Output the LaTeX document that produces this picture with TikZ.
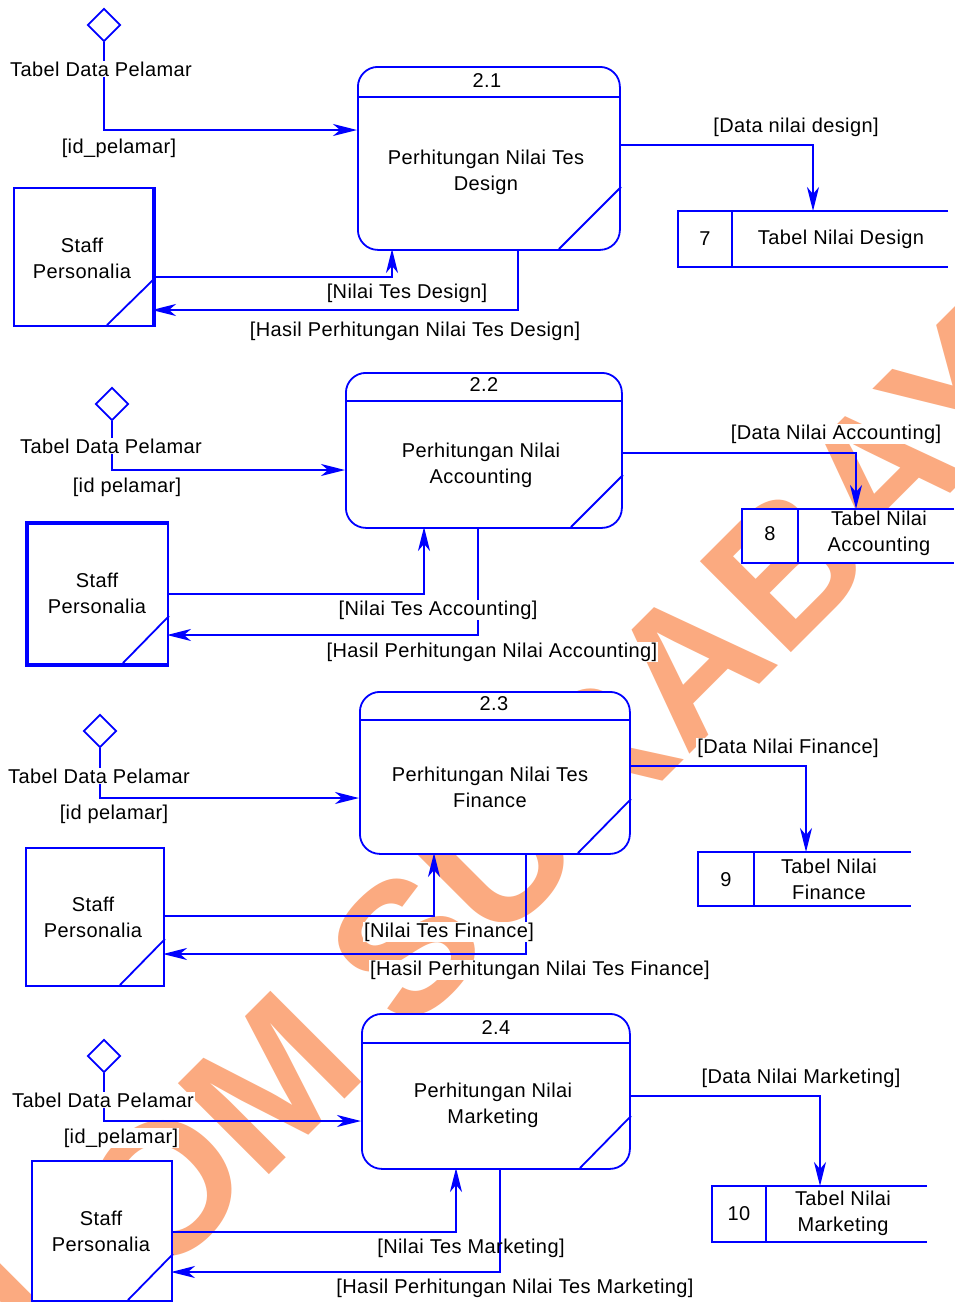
\documentclass[tikz,border=0pt]{standalone}
\usepackage{fontspec}
\setmainfont{Liberation Sans}[LetterSpace=2]
\newfontfamily\stampfont{Liberation Sans}
\usetikzlibrary{arrows.meta,shapes.geometric}
\definecolor{flowblue}{RGB}{0,0,255}
\definecolor{wmorange}{RGB}{251,170,128}

\tikzset{
  every node/.style={font=\fontsize{20}{26}\selectfont, text=black},
  ln/.style={draw=flowblue, line width=1.8pt},
  thickedge/.style={draw=flowblue, line width=3.6pt},
  flow/.style={ln, -{Stealth[length=24pt,width=12pt,inset=7pt]}},
  proc/.style={ln, fill=white, rounded corners=20pt, inner sep=0, anchor=north west},
  ent/.style={ln, fill=white, inner sep=0, anchor=north west},
  src/.style={ln, diamond, fill=white, inner sep=0, minimum width=33, minimum height=33},
  lbl/.style={fill=white, inner sep=1pt},
  lblclear/.style={inner sep=1pt},
  txt/.style={align=center},
  wm/.style={font=\stampfont\bfseries\fontsize{187}{187}\selectfont, text=wmorange,
             rotate=45, anchor=base west, inner sep=0}
}

\begin{document}
\begin{tikzpicture}[x=1pt,y=-1pt]
\useasboundingbox (0,0) rectangle (954,1302);
\fill[white] (0,0) rectangle (954,1302);

% background stamp
\begin{scope}
  \clip (0,0) rectangle (954,1302);
  \node[wm] (wmark) at (-143.3,1587.3) {STIKOM SURABAYA};
\end{scope}

%% ---------------- 2.1 ----------------
\node[proc, minimum width=262, minimum height=183] (p1) at (357,66) {};
\draw[ln] (357,97) -- (619,97);
\draw[ln] (559,249) -- (621,187);
\node (p1num) at (487,81) {2.1};
\node[txt] (p1txt) at (486,172) {Perhitungan Nilai Tes\\Design};

\node[src] (d1) at (104,25) {};

\node[ent, minimum width=139, minimum height=138] (e1) at (13,187) {};
\draw[thickedge] (e1.north east) -- (e1.south east);
\draw[ln] (107,325) -- (153,280);
\node[txt] (e1txt) at (82,258) {Staff\\Personalia};

\fill[white] (678,211) rectangle (948,267);
\draw[ln] (948,211) -- (678,211) -- (678,267) -- (948,267);
\draw[ln] (732,211) -- (732,267);
\node (s7num) at (705,239) {7};
\node (s7txt) at (841,239) {Tabel Nilai Design};

\coordinate (p1in) at (357,130);
\coordinate (p1out) at (619,145);
\coordinate (s7in) at (813,211);
\coordinate (e1out) at (152,277);
\coordinate (p1bin) at (392,249);
\coordinate (p1bout) at (518,249);
\coordinate (e1in) at (152,310);

\draw[flow] (d1.south) |- (p1in);
\draw[flow] (p1out) -| (s7in);
\draw[flow] (e1out) -| (p1bin);
\draw[flow] (p1bout) |- (e1in);

\node[lbl] (l1a) at (101,69) {Tabel Data Pelamar};
\node[lbl] (l1b) at (119,148) {[id\_pelamar]};
\node[lbl] (l1c) at (796,127) {[Data nilai design]};
\node[lbl] (l1d) at (407,293) {[Nilai Tes Design]};
\node[lbl] (l1e) at (415,331) {[Hasil Perhitungan Nilai Tes Design]};

%% ---------------- 2.2 ----------------
\node[proc, minimum width=276, minimum height=155] (p2) at (345,372) {};
\draw[ln] (345,401) -- (621,401);
\draw[ln] (571,527) -- (623,475);
\node (p2num) at (484,385) {2.2};
\node[txt] (p2txt) at (481,465) {Perhitungan Nilai\\Accounting};

\node[src] (d2) at (112,404) {};

\node[ent, minimum width=140, minimum height=140] (e2) at (27,523) {};
\draw[thickedge] (e2.north east) -- (e2.north west) -- (e2.south west) -- (e2.south east);
\draw[ln] (123,663) -- (169,616);
\node[txt] (e2txt) at (97,593) {Staff\\Personalia};

\fill[white] (742,509) rectangle (954,563);
\draw[ln] (954,509) -- (742,509) -- (742,563) -- (954,563);
\draw[ln] (798,509) -- (798,563);
\node (s8num) at (770,534) {8};
\node[txt] (s8txt) at (879,533) {Tabel Nilai\\Accounting};

\coordinate (p2in) at (345,470);
\coordinate (p2out) at (621,453);
\coordinate (s8in) at (856,509);
\coordinate (e2out) at (167,594);
\coordinate (p2bin) at (424,527);
\coordinate (p2bout) at (478,527);
\coordinate (e2in) at (167,635);

\draw[flow] (d2.south) |- (p2in);
\draw[flow] (p2out) -| (s8in);
\draw[flow] (e2out) -| (p2bin);
\draw[flow] (p2bout) |- (e2in);

\node[lbl] (l2a) at (111,446) {Tabel Data Pelamar};
\node[lbl] (l2b) at (127,487) {[id pelamar]};
\node[lbl] (l2c) at (836,434) {[Data Nilai Accounting]};
\node[lbl] (l2d) at (438,610) {[Nilai Tes Accounting]};
\node[lbl] (l2e) at (492,652) {[Hasil Perhitungan Nilai Accounting]};

%% ---------------- 2.3 ----------------
\node[proc, minimum width=270, minimum height=162] (p3) at (359,691) {};
\draw[ln] (359,720) -- (629,720);
\draw[ln] (578,853) -- (631,799);
\node (p3num) at (494,704) {2.3};
\node[txt] (p3txt) at (490,787) {Perhitungan Nilai Tes\\Finance};

\node[src] (d3) at (100,731) {};

\node[ent, minimum width=138, minimum height=138] (e3) at (25,847) {};
\draw[ln] (120,985) -- (165,939);
\node[txt] (e3txt) at (93,917) {Staff\\Personalia};

\fill[white] (698,852) rectangle (911,906);
\draw[ln] (911,852) -- (698,852) -- (698,906) -- (911,906);
\draw[ln] (754,852) -- (754,906);
\node (s9num) at (726,880) {9};
\node[txt] (s9txt) at (829,879) {Tabel Nilai\\Finance};

\coordinate (p3in) at (359,798);
\coordinate (p3out) at (629,766);
\coordinate (s9in) at (806,852);
\coordinate (e3out) at (163,916);
\coordinate (p3bin) at (434,853);
\coordinate (p3bout) at (526,853);
\coordinate (e3in) at (163,954);

\draw[flow] (d3.south) |- (p3in);
\draw[flow] (p3out) -| (s9in);
\draw[flow] (e3out) -| (p3bin);
\draw[flow] (p3bout) |- (e3in);

\node[lbl] (l3a) at (99,776) {Tabel Data Pelamar};
\node[lbl] (l3b) at (114,814) {[id pelamar]};
\node[lbl] (l3c) at (788,748) {[Data Nilai Finance]};
\node[lbl] (l3d) at (449,932) {[Nilai Tes Finance]};
\node[lbl] (l3e) at (540,970) {[Hasil Perhitungan Nilai Tes Finance]};

%% ---------------- 2.4 ----------------
\node[proc, minimum width=268, minimum height=155] (p4) at (361,1013) {};
\draw[ln] (361,1043) -- (629,1043);
\draw[ln] (580,1168) -- (631,1116);
\node (p4num) at (496,1028) {2.4};
\node[txt] (p4txt) at (493,1105) {Perhitungan Nilai\\Marketing};

\node[src] (d4) at (104,1056) {};

\node[ent, minimum width=140, minimum height=140] (e4) at (31,1160) {};
\draw[ln] (128,1300) -- (173,1254);
\node[txt] (e4txt) at (101,1231) {Staff\\Personalia};

\fill[white] (712,1186) rectangle (927,1242);
\draw[ln] (927,1186) -- (712,1186) -- (712,1242) -- (927,1242);
\draw[ln] (766,1186) -- (766,1242);
\node (s10num) at (739,1214) {10};
\node[txt] (s10txt) at (843,1213) {Tabel Nilai\\Marketing};

\coordinate (p4in) at (361,1121);
\coordinate (p4out) at (629,1096);
\coordinate (s10in) at (820,1186);
\coordinate (e4out) at (171,1232);
\coordinate (p4bin) at (456,1168);
\coordinate (p4bout) at (500,1168);
\coordinate (e4in) at (171,1272);

\draw[flow] (d4.south) |- (p4in);
\draw[flow] (p4out) -| (s10in);
\draw[flow] (e4out) -| (p4bin);
\draw[flow] (p4bout) |- (e4in);

\node[lbl] (l4a) at (103,1100) {Tabel Data Pelamar};
\node[lbl] (l4b) at (121,1138) {[id\_pelamar]};
\node[lbl] (l4c) at (801,1078) {[Data Nilai Marketing]};
\node[lblclear] (l4d) at (471,1248) {[Nilai Tes Marketing]};
\node[lbl] (l4e) at (515,1288) {[Hasil Perhitungan Nilai Tes Marketing]};

\end{tikzpicture}
\end{document}
